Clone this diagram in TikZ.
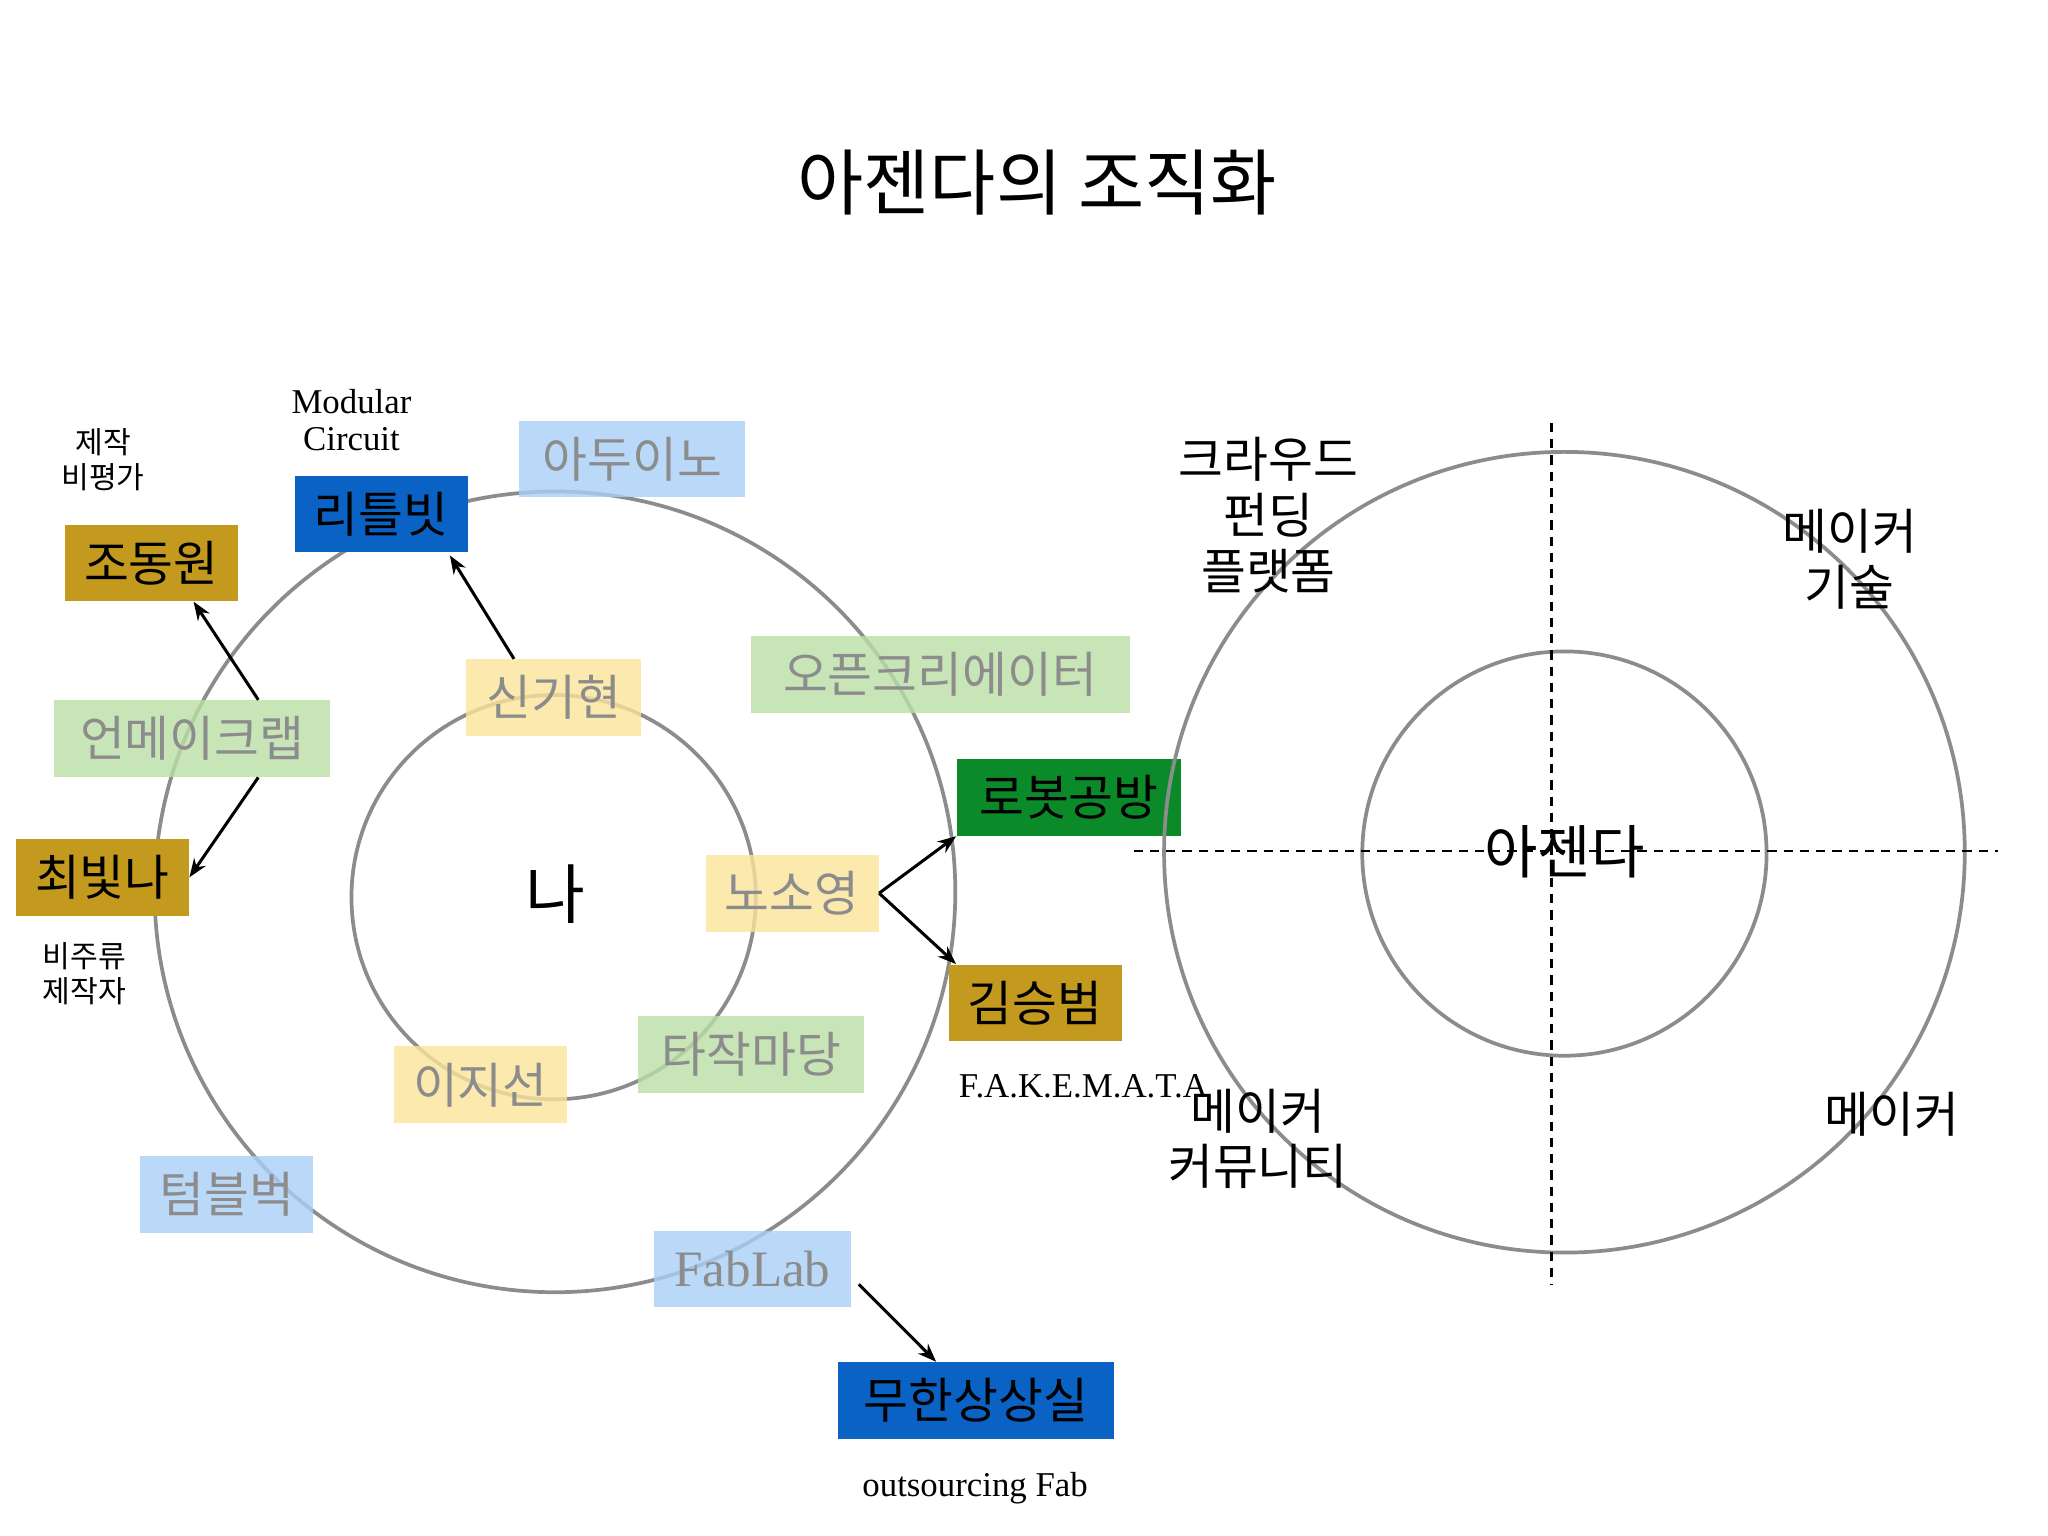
\documentclass[tikz,border=0pt]{standalone}
\usepackage{fontspec}
\setmainfont{Liberation Serif}
\newfontfamily\kr{Noto Sans CJK KR}
\usetikzlibrary{arrows.meta}
\definecolor{gold}{HTML}{C49A1E}
\definecolor{dblue}{HTML}{0A63C4}
\definecolor{dgreen}{HTML}{0B8A2A}
\definecolor{lblue}{HTML}{A9CFF5}
\definecolor{lgreen}{HTML}{B9DFA6}
\definecolor{lyel}{HTML}{FBE49A}
\definecolor{ring}{HTML}{8C8C8C}
\tikzset{
 bx/.style={inner sep=0pt,minimum height=1.16cm,font=\kr\fontsize{21}{24}\selectfont},
 strong/.style={bx,text=black},
 faint/.style={bx,text=black!45,fill opacity=0.8,text opacity=1},
 small/.style={align=center,font=\kr\fontsize{13}{15}\selectfont},
 eng/.style={align=center,font=\fontsize{15}{16}\selectfont},
 big/.style={align=center,font=\kr\fontsize{21}{24}\selectfont},
 ringc/.style={draw=ring,line width=1.6pt},
 arr/.style={-{Stealth[length=8pt]},line width=1.3pt},
 dl/.style={dashed,line width=1.2pt,dash pattern=on 4pt off 3pt}
}
\begin{document}
\begin{tikzpicture}[x=0.02cm,y=-0.02cm]
\useasboundingbox[fill=white] (0,0) rectangle (1550,1162);
\node[font=\kr\fontsize{31}{34}\selectfont] (title) at (785,138) {아젠다의 조직화};
% left rings
\draw[ringc] (420,675) circle[radius=303];
\draw[ringc] (419,679) circle[radius=153];
\node[font=\kr\fontsize{28}{30}\selectfont] (na) at (420,677) {나};
% boxes
\node[strong,fill=gold,minimum width=2.62cm] (jdw) at (114.5,426) {조동원};
\node[strong,fill=dblue,minimum width=2.62cm] (ltb) at (288.5,389) {리틀빗};
\node[faint,fill=lblue,minimum width=3.42cm] (adn) at (478.5,347.5) {아두이노};
\node[faint,fill=lgreen,minimum width=4.18cm] (unm) at (145.5,559) {언메이크랩};
\node[faint,fill=lyel,minimum width=2.64cm] (skh) at (419,528) {신기현};
\node[faint,fill=lgreen,minimum width=5.74cm] (opc) at (711.5,510.5) {오픈크리에이터};
\node[strong,fill=dgreen,minimum width=3.4cm] (rbg) at (809,603.5) {로봇공방};
\node[strong,fill=gold,minimum width=2.62cm] (cbn) at (77.5,664) {최빛나};
\node[faint,fill=lyel,minimum width=2.62cm] (nsy) at (599.5,676) {노소영};
\node[strong,fill=gold,minimum width=2.62cm] (ksb) at (783.5,759) {김승범};
\node[faint,fill=lgreen,minimum width=3.42cm] (tjm) at (568.5,798) {타작마당};
\node[faint,fill=lyel,minimum width=2.62cm] (ljs) at (363.5,821) {이지선};
\node[faint,fill=lblue,minimum width=2.62cm] (tbb) at (171.5,904) {텀블벅};
\node[faint,fill=lblue,minimum width=2.98cm,font=\fontsize{22}{24}\selectfont] (fab) at (569.5,960.5) {FabLab};
\node[strong,fill=dblue,minimum width=4.18cm] (mhs) at (738.5,1060) {무한상상실};
% small labels
\node[small] (l1) at (78,348) {제작\\비평가};
\node[eng] (l2) at (266,318) {Modular\\Circuit};
\node[small] (l3) at (64,737) {비주류\\제작자};
\node[eng] (l4) at (820,822) {F.A.K.E.M.A.T.A};
\node[eng] (l5) at (738,1126) {outsourcing Fab};
% arrows
\draw[arr] ([xshift=-0.6cm]skh.north) -- ([xshift=1.04cm,yshift=-0.04cm]ltb.south);
\draw[arr] ([xshift=1cm]unm.north) -- ([xshift=0.64cm]jdw.south);
\draw[arr] ([xshift=1cm]unm.south) -- (cbn.east);
\draw[arr] (nsy.east) -- (rbg.south west);
\draw[arr] (nsy.east) -- ([xshift=0.12cm]ksb.north west);
\coordinate (fs) at (650,972);
\draw[arr] (fs) -- ([xshift=-0.6cm]mhs.north);
% right diagram
\draw[ringc] (1184,645) circle[radius=303];
\draw[ringc] (1184,646) circle[radius=153];
\draw[dl] (858,644) -- (1512,644);
\draw[dl] (1174,320) -- (1174,972);
\node[font=\kr\fontsize{25}{28}\selectfont] (ajd) at (1184,645) {아젠다};
\node[big] (r1) at (960,390) {크라우드\\펀딩\\플랫폼};
\node[big] (r2) at (1400,423) {메이커\\기술};
\node[big] (r3) at (952,862) {메이커\\커뮤니티};
\node[big] (r4) at (1432,843) {메이커};
\end{tikzpicture}
\end{document}
